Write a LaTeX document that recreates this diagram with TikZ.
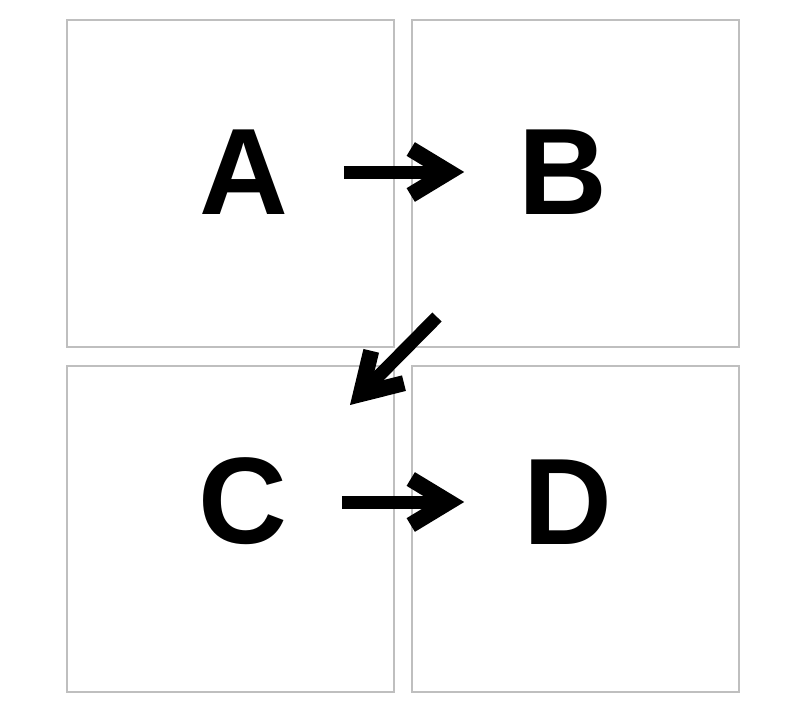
\documentclass[tikz,border=0pt]{standalone}
\usepackage{fontspec}
\setmainfont{Liberation Sans}
\usetikzlibrary{arrows.meta}

\tikzset{
	panel/.style = {draw=gray!50, line width=1pt},
	letter/.style = {inner sep=0pt, font=\fontsize{61.5}{61.5}\selectfont\bfseries},
	bigarrow/.style = {line width=6.5pt, -{Straight Barb[length=19pt, width=23pt, line width=8pt]}}
}

\begin{document}
\begin{tikzpicture}[x=0.5pt, y=-0.5pt]
		\useasboundingbox (0,0) rectangle (800,719);
		
		% cztery pola
		\draw[panel] (67,20) rectangle (394,347);
		\draw[panel] (412,20) rectangle (739,347);
		\draw[panel] (67,366) rectangle (394,692);
		\draw[panel] (412,366) rectangle (739,692);
		
		\node[letter] (A) at (244,172) {A};
		\node[letter] (B) at (563,172) {B};
		\node[letter] (C) at (243,501) {C};
		\node[letter] (D) at (568,502) {D};
		
		\draw[bigarrow, shorten <=27.5pt, shorten >=27pt] (A.east) -- (B.west |- A.east);
		\draw[bigarrow] ([xshift=-63pt, yshift=-72.5pt]B.center) -- ([xshift=53.5pt, yshift=48pt]C.center);
		\draw[bigarrow, shorten <=27pt, shorten >=29.5pt] (C.east |- D.center) -- (D.west);
	\end{tikzpicture}
\end{document}
